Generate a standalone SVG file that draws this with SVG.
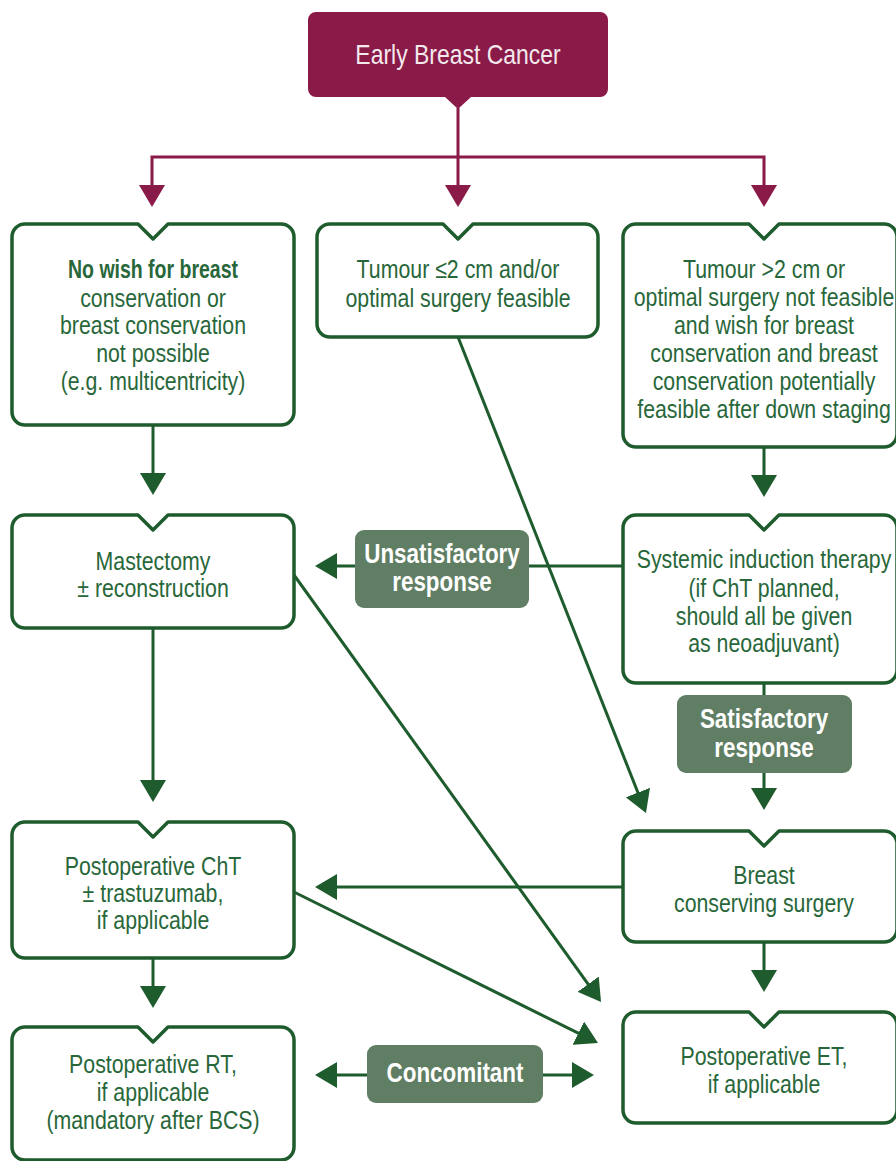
<svg xmlns="http://www.w3.org/2000/svg" width="896" height="1161" viewBox="0 0 896 1161">
<style>
.t{font-family:"Liberation Sans",Arial,sans-serif;font-size:26px;fill:#28673a;text-anchor:middle}
.b{font-weight:bold;font-size:25px}
.lbl{font-family:"Liberation Sans",Arial,sans-serif;font-size:27px;font-weight:bold;fill:#ffffff;text-anchor:middle}
.ttl{font-family:"Liberation Sans",Arial,sans-serif;font-size:28px;fill:#f3e9ed;text-anchor:middle}
.box{fill:#ffffff;stroke:#1e5b2d;stroke-width:3.5;stroke-linejoin:round}
.lb{fill:#5f7e63}
.c{fill:none;stroke:#1e5b2d;stroke-width:3}
.cp{fill:none;stroke:#8a1a48;stroke-width:3}
</style>
<defs>
<marker id="ag" viewBox="0 0 22 26" refX="18" refY="13" markerWidth="22" markerHeight="26" markerUnits="userSpaceOnUse" orient="auto-start-reverse"><path d="M0,0 L22,13 L0,26 Z" fill="#1e5b2d"/></marker>
<marker id="ap" viewBox="0 0 22 26" refX="18" refY="13" markerWidth="22" markerHeight="26" markerUnits="userSpaceOnUse" orient="auto"><path d="M0,0 L22,13 L0,26 Z" fill="#8a1a48"/></marker>
</defs>
<g id="connectors">
<path class="cp" d="M458,108 V203" marker-end="url(#ap)"/>
<path class="cp" d="M458,157 H152 V203" marker-end="url(#ap)"/>
<path class="cp" d="M458,157 H764 V203" marker-end="url(#ap)"/>
<path class="c" d="M153,425 V491" marker-end="url(#ag)"/>
<path class="c" d="M764,447 V493" marker-end="url(#ag)"/>
<path class="c" d="M153,628 V798" marker-end="url(#ag)"/>
<path class="c" d="M764,683 V806" marker-end="url(#ag)"/>
<path class="c" d="M153,958 V1004" marker-end="url(#ag)"/>
<path class="c" d="M764,942 V988" marker-end="url(#ag)"/>
<path class="c" d="M623,566 H319" marker-end="url(#ag)"/>
<path class="c" d="M623,887 H319" marker-end="url(#ag)"/>
<path class="c" d="M319,1075 H590" marker-start="url(#ag)" marker-end="url(#ag)"/>
<path class="c" d="M458,337 L644.5,809.3" marker-end="url(#ag)"/>
<path class="c" d="M294,575 L598.7,998.8" marker-end="url(#ag)"/>
<path class="c" d="M294,892 L594.4,1041.2" marker-end="url(#ag)"/>
</g>
<g id="n-early">
<path d="M316,12 H600 A8,8 0 0 1 608,20 V89 A8,8 0 0 1 600,97 H471 L458,109 L445,97 H316 A8,8 0 0 1 308,89 V20 A8,8 0 0 1 316,12 Z" fill="#8a1a48"/>
<g transform="translate(458 0) scale(0.82 1)"><text class="ttl" x="0" y="64">Early Breast Cancer</text></g>
</g>
<g id="n-nowish">
<path class="box" d="M25,224 H138 L153,239 L168,224 H281 A13,13 0 0 1 294,237 V412 A13,13 0 0 1 281,425 H25 A13,13 0 0 1 12,412 V237 A13,13 0 0 1 25,224 Z"/>
<g transform="translate(153 0) scale(0.78 1)"><text class="t b" x="0" y="278">No wish for breast</text></g>
<g transform="translate(153 0) scale(0.82 1)">
<text class="t" x="0" y="307">conservation or</text>
<text class="t" x="0" y="334">breast conservation</text>
<text class="t" x="0" y="362">not possible</text>
<text class="t" x="0" y="390">(e.g. multicentricity)</text>
</g>
</g>
<g id="n-small">
<path class="box" d="M330,224 H443 L458,239 L473,224 H585 A13,13 0 0 1 598,237 V324 A13,13 0 0 1 585,337 H330 A13,13 0 0 1 317,324 V237 A13,13 0 0 1 330,224 Z"/>
<g transform="translate(458 0) scale(0.82 1)">
<text class="t" x="0" y="278">Tumour ≤2 cm and/or</text>
<text class="t" x="0" y="307">optimal surgery feasible</text>
</g>
</g>
<g id="n-large">
<path class="box" d="M636,224 H749 L764,239 L779,224 H884 A13,13 0 0 1 897,237 V434 A13,13 0 0 1 884,447 H636 A13,13 0 0 1 623,434 V237 A13,13 0 0 1 636,224 Z"/>
<g transform="translate(764 0) scale(0.82 1)">
<text class="t" x="0" y="278">Tumour &gt;2 cm or</text>
<text class="t" x="0" y="306">optimal surgery not feasible</text>
<text class="t" x="0" y="334">and wish for breast</text>
<text class="t" x="0" y="362">conservation and breast</text>
<text class="t" x="0" y="390">conservation potentially</text>
<text class="t" x="0" y="418">feasible after down staging</text>
</g>
</g>
<g id="n-mastectomy">
<path class="box" d="M25,515 H138 L153,530 L168,515 H281 A13,13 0 0 1 294,528 V615 A13,13 0 0 1 281,628 H25 A13,13 0 0 1 12,615 V528 A13,13 0 0 1 25,515 Z"/>
<g transform="translate(153 0) scale(0.82 1)">
<text class="t" x="0" y="570">Mastectomy</text>
<text class="t" x="0" y="597">± reconstruction</text>
</g>
</g>
<g id="n-systemic">
<path class="box" d="M636,515 H749 L764,530 L779,515 H884 A13,13 0 0 1 897,528 V670 A13,13 0 0 1 884,683 H636 A13,13 0 0 1 623,670 V528 A13,13 0 0 1 636,515 Z"/>
<g transform="translate(764 0) scale(0.82 1)">
<text class="t" x="0" y="568">Systemic induction therapy</text>
<text class="t" x="0" y="597">(if ChT planned,</text>
<text class="t" x="0" y="625">should all be given</text>
<text class="t" x="0" y="652">as neoadjuvant)</text>
</g>
</g>
<g id="l-unsat">
<rect class="lb" x="355" y="530" width="174" height="78" rx="9"/>
<g transform="translate(442 0) scale(0.83 1)">
<text class="lbl" x="0" y="563">Unsatisfactory</text>
<text class="lbl" x="0" y="591">response</text>
</g>
</g>
<g id="l-sat">
<rect class="lb" x="677" y="695" width="175" height="78" rx="9"/>
<g transform="translate(764 0) scale(0.83 1)">
<text class="lbl" x="0" y="728">Satisfactory</text>
<text class="lbl" x="0" y="757">response</text>
</g>
</g>
<g id="n-postcht">
<path class="box" d="M25,822 H138 L153,837 L168,822 H281 A13,13 0 0 1 294,835 V945 A13,13 0 0 1 281,958 H25 A13,13 0 0 1 12,945 V835 A13,13 0 0 1 25,822 Z"/>
<g transform="translate(153 0) scale(0.82 1)">
<text class="t" x="0" y="875">Postoperative ChT</text>
<text class="t" x="0" y="902">± trastuzumab,</text>
<text class="t" x="0" y="929">if applicable</text>
</g>
</g>
<g id="n-bcs">
<path class="box" d="M636,831 H749 L764,846 L779,831 H884 A13,13 0 0 1 897,844 V929 A13,13 0 0 1 884,942 H636 A13,13 0 0 1 623,929 V844 A13,13 0 0 1 636,831 Z"/>
<g transform="translate(764 0) scale(0.82 1)">
<text class="t" x="0" y="884">Breast</text>
<text class="t" x="0" y="912">conserving surgery</text>
</g>
</g>
<g id="n-rt">
<path class="box" d="M25,1027 H138 L153,1042 L168,1027 H281 A13,13 0 0 1 294,1040 V1147 A13,13 0 0 1 281,1160 H25 A13,13 0 0 1 12,1147 V1040 A13,13 0 0 1 25,1027 Z"/>
<g transform="translate(153 0) scale(0.82 1)">
<text class="t" x="0" y="1073">Postoperative RT,</text>
<text class="t" x="0" y="1101">if applicable</text>
<text class="t" x="0" y="1129">(mandatory after BCS)</text>
</g>
</g>
<g id="l-conc">
<rect class="lb" x="367" y="1045" width="176" height="58" rx="9"/>
<g transform="translate(455 0) scale(0.83 1)"><text class="lbl" x="0" y="1082">Concomitant</text></g>
</g>
<g id="n-et">
<path class="box" d="M636,1012 H749 L764,1027 L779,1012 H884 A13,13 0 0 1 897,1025 V1110 A13,13 0 0 1 884,1123 H636 A13,13 0 0 1 623,1110 V1025 A13,13 0 0 1 636,1012 Z"/>
<g transform="translate(764 0) scale(0.82 1)">
<text class="t" x="0" y="1065">Postoperative ET,</text>
<text class="t" x="0" y="1093">if applicable</text>
</g>
</g>
</svg>
